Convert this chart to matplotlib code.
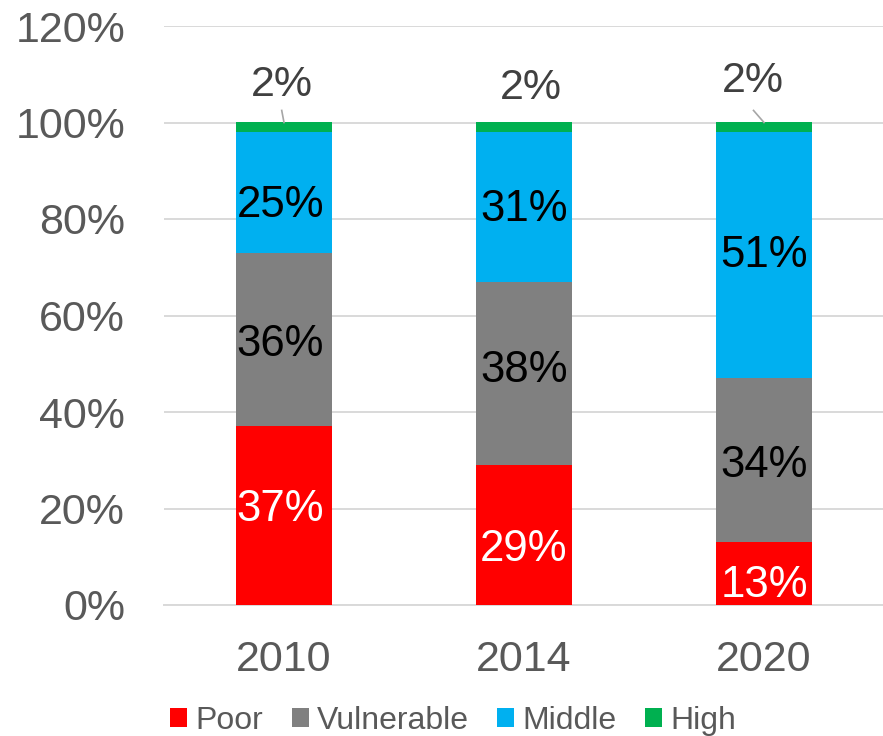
import matplotlib.pyplot as plt
from matplotlib.patches import Patch
import numpy as np

plt.rcParams['font.family'] = ['Liberation Sans', 'DejaVu Sans']

years = ['2010', '2014', '2020']
groups = ['Poor', 'Vulnerable', 'Middle', 'High']
poor = [37, 29, 13]
vulnerable = [36, 38, 34]
middle = [25, 31, 51]
high = [2, 2, 2]

colors = ['#ff0000', '#808080', '#00b0f0', '#00b050']
label_colors = ['white', 'black', 'black', '#404040']

# small nudges for the in-bar labels (data units), as placed in the original
label_dy = [[1.2, -3.0, -2.5],
            [-1.0, 0.7, -1.0],
            [-2.8, -0.6, 0.0]]
label_dx = [-0.015, 0.0, 0.0]

fig = plt.figure(figsize=(8.83, 7.36), dpi=100)
ax = fig.add_axes([164 / 883, 131 / 736, 720 / 883, 579 / 736])

x = np.arange(len(years))
series = [poor, vulnerable, middle, high]
bottom = np.zeros(len(years))
for i, vals in enumerate(series):
    ax.bar(x, vals, width=0.4, bottom=bottom, color=colors[i], zorder=3)
    if i < 3:
        for j, v in enumerate(vals):
            ax.text(x[j] + label_dx[j], bottom[j] + v / 2 + label_dy[i][j], f'{v}%',
                    ha='center', va='center', fontsize=31.5,
                    color=label_colors[i], zorder=4)
    bottom += np.array(vals)

# the "2%" labels sit above the bars, two of them with leader lines
top_dx = [-0.01, 0.027, -0.046]
top_y = [107.8, 107.2, 108.6]
leader = [True, False, True]
for j, v in enumerate(high):
    ax.text(x[j] + top_dx[j], top_y[j], f'{v}%', ha='center', va='center',
            fontsize=31, color='#404040', zorder=4)
    if leader[j]:
        ax.plot([x[j] + top_dx[j] * 0.95, x[j]], [102.5, 100],
                color='#a6a6a6', lw=1.2, zorder=4)

ax.set_xlim(-0.5, 2.5)
ax.set_ylim(0, 120)
ax.set_yticks(range(0, 121, 20))
ax.set_yticklabels([f'{t}%' for t in range(0, 121, 20)])
ax.set_xticks(x)
ax.set_xticklabels(years)
ax.tick_params(axis='y', length=0, pad=28, labelsize=31, labelcolor='#595959')
ax.tick_params(axis='x', length=0, pad=25, labelsize=31, labelcolor='#595959')
ax.grid(axis='y', color='#d9d9d9', lw=1.4, zorder=0)
for s in ['top', 'right', 'left']:
    ax.spines[s].set_visible(False)
ax.spines['bottom'].set_color('#d9d9d9')
ax.spines['bottom'].set_linewidth(1.4)

handles = [Patch(facecolor=c, edgecolor='none') for c in colors]
fig.legend(handles, groups, loc='center', bbox_to_anchor=(453 / 883, 1 - 721 / 736),
           ncol=4, frameon=False, fontsize=23, labelcolor='#595959',
           handlelength=0.53, handleheight=0.53, handletextpad=0.25,
           columnspacing=0.9)

fig.savefig('out.png', dpi=100)
